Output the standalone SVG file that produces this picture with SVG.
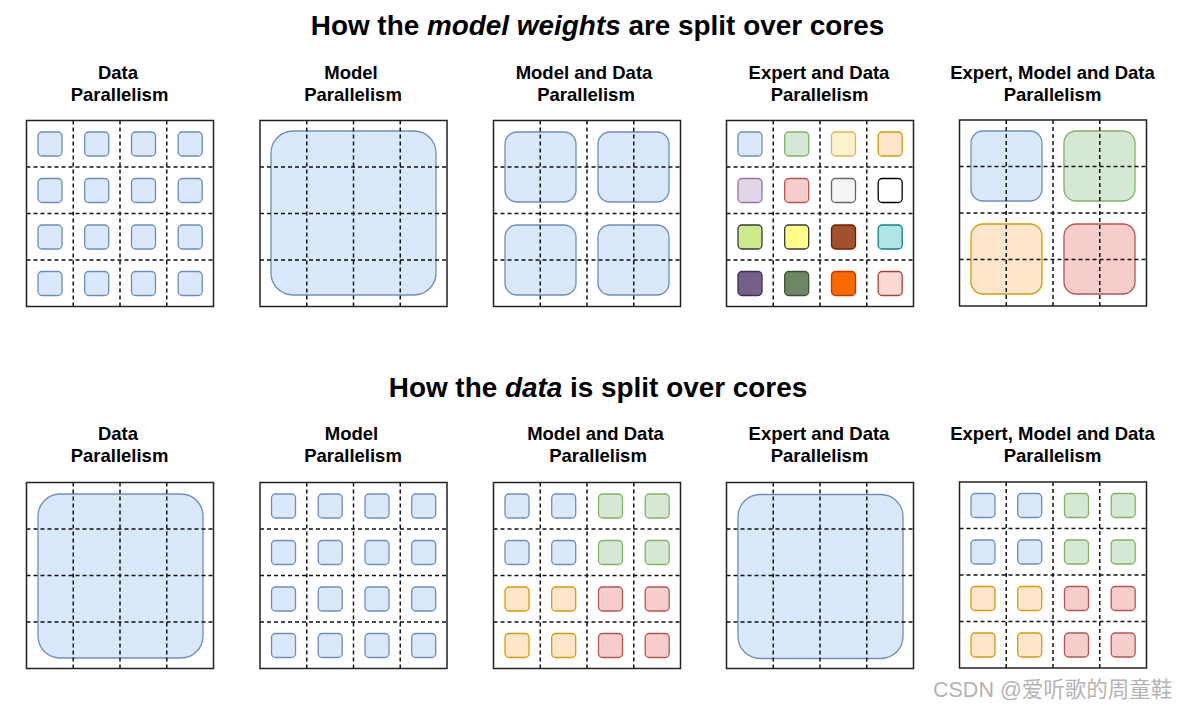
<svg xmlns="http://www.w3.org/2000/svg" xmlns:xlink="http://www.w3.org/1999/xlink" width="1180" height="710" viewBox="0 0 1180 710">
<style>
.title{font-family:"Liberation Sans",Arial,sans-serif;font-weight:bold;font-size:27.9px;fill:#000;text-anchor:middle}
.lbl{font-family:"Liberation Sans",Arial,sans-serif;font-weight:bold;font-size:18.5px;fill:#000;text-anchor:middle}
.box{fill:#fff;stroke:none}
.border{fill:none;stroke:#222;stroke-width:1.5}
.grid{fill:none;stroke:#111;stroke-width:1.5;stroke-dasharray:4 3}
.bl{fill:#dae8fc;stroke:#6c8ebf;stroke-width:1.3}
.gr{fill:#d5e8d4;stroke:#82b366;stroke-width:1.3}
.ye{fill:#fff2cc;stroke:#d6b656;stroke-width:1.3}
.or{fill:#ffe6cc;stroke:#d79b00;stroke-width:1.3}
.pu{fill:#e1d5e7;stroke:#9673a6;stroke-width:1.3}
.re{fill:#f8cecc;stroke:#b85450;stroke-width:1.3}
.gy{fill:#f5f5f5;stroke:#666666;stroke-width:1.3}
.wh{fill:#ffffff;stroke:#000000;stroke-width:1.3}
.li{fill:#cdeb8b;stroke:#36393d;stroke-width:1.3}
.yy{fill:#ffff88;stroke:#36393d;stroke-width:1.3}
.br{fill:#a0522d;stroke:#6d1f00;stroke-width:1.3}
.te{fill:#b0e3e6;stroke:#0e8088;stroke-width:1.3}
.dp{fill:#76608a;stroke:#432d57;stroke-width:1.3}
.dg{fill:#6d8764;stroke:#3a5431;stroke-width:1.3}
.do{fill:#fa6800;stroke:#c73500;stroke-width:1.3}
.lr{fill:#fad9d5;stroke:#ae4132;stroke-width:1.3}
.wm{font-family:"Liberation Sans","Noto Sans CJK SC",sans-serif;font-size:21.5px;fill:#b4b4b4}
</style>
<defs>
<rect id="sq" x="0" y="0" width="24" height="24" rx="4"/>
<rect id="md" x="0" y="0" width="71" height="70" rx="12"/>
<rect id="bg" x="0" y="0" width="165" height="164" rx="22"/>
<path id="gridlines" d="M46.75 0V187M93.5 0V187M140.25 0V187M0 46.5H187M0 93H187M0 139.5H187"/>
</defs>
<rect width="1180" height="710" fill="#fff"/>
<text class="title" x="597.5" y="35">How the <tspan font-style="italic">model weights</tspan> are split over cores</text>
<text class="title" x="598" y="397">How the <tspan font-style="italic">data</tspan> is split over cores</text>

<!-- Top row -->
<g id="w-data">
<text class="lbl" x="118" y="79">Data</text><text class="lbl" x="119.5" y="101">Parallelism</text>
<g transform="translate(26.5,120.5)">
<rect class="box" width="187" height="186"/>
<g class="bl">
<use href="#sq" x="11.5" y="11.5"/><use href="#sq" x="58.2" y="11.5"/><use href="#sq" x="105" y="11.5"/><use href="#sq" x="151.7" y="11.5"/>
<use href="#sq" x="11.5" y="58"/><use href="#sq" x="58.2" y="58"/><use href="#sq" x="105" y="58"/><use href="#sq" x="151.7" y="58"/>
<use href="#sq" x="11.5" y="104.5"/><use href="#sq" x="58.2" y="104.5"/><use href="#sq" x="105" y="104.5"/><use href="#sq" x="151.7" y="104.5"/>
<use href="#sq" x="11.5" y="151"/><use href="#sq" x="58.2" y="151"/><use href="#sq" x="105" y="151"/><use href="#sq" x="151.7" y="151"/>
</g>
<use href="#gridlines" class="grid"/>
<rect class="border" width="187" height="186"/>
</g>
</g>

<g id="w-model">
<text class="lbl" x="351" y="79">Model</text><text class="lbl" x="353" y="101">Parallelism</text>
<g transform="translate(260,120.5)">
<rect class="box" width="187" height="186"/>
<use href="#bg" class="bl" x="11" y="10.5"/>
<use href="#gridlines" class="grid"/>
<rect class="border" width="187" height="186"/>
</g>
</g>

<g id="w-model-data">
<text class="lbl" x="584" y="79">Model and Data</text><text class="lbl" x="586" y="101">Parallelism</text>
<g transform="translate(493.5,120.5)">
<rect class="box" width="187" height="186"/>
<g class="bl">
<use href="#md" x="11.5" y="11.5"/><use href="#md" x="104.5" y="11.5"/>
<use href="#md" x="11.5" y="104.5"/><use href="#md" x="104.5" y="104.5"/>
</g>
<use href="#gridlines" class="grid"/>
<rect class="border" width="187" height="186"/>
</g>
</g>

<g id="w-expert-data">
<text class="lbl" x="819" y="79">Expert and Data</text><text class="lbl" x="819.5" y="101">Parallelism</text>
<g transform="translate(726.5,120.5)">
<rect class="box" width="187" height="186"/>
<use href="#sq" class="bl" x="11.5" y="11.5"/><use href="#sq" class="gr" x="58.2" y="11.5"/><use href="#sq" class="ye" x="105" y="11.5"/><use href="#sq" class="or" x="151.7" y="11.5"/>
<use href="#sq" class="pu" x="11.5" y="58"/><use href="#sq" class="re" x="58.2" y="58"/><use href="#sq" class="gy" x="105" y="58"/><use href="#sq" class="wh" x="151.7" y="58"/>
<use href="#sq" class="li" x="11.5" y="104.5"/><use href="#sq" class="yy" x="58.2" y="104.5"/><use href="#sq" class="br" x="105" y="104.5"/><use href="#sq" class="te" x="151.7" y="104.5"/>
<use href="#sq" class="dp" x="11.5" y="151"/><use href="#sq" class="dg" x="58.2" y="151"/><use href="#sq" class="do" x="105" y="151"/><use href="#sq" class="lr" x="151.7" y="151"/>
<use href="#gridlines" class="grid"/>
<rect class="border" width="187" height="186"/>
</g>
</g>

<g id="w-expert-model-data">
<text class="lbl" x="1052.5" y="79">Expert, Model and Data</text><text class="lbl" x="1052.5" y="101">Parallelism</text>
<g transform="translate(959.5,120)">
<rect class="box" width="187" height="186"/>
<use href="#md" class="bl" x="11.5" y="11"/><use href="#md" class="gr" x="104.5" y="11"/>
<use href="#md" class="or" x="11.5" y="104"/><use href="#md" class="re" x="104.5" y="104"/>
<use href="#gridlines" class="grid"/>
<rect class="border" width="187" height="186"/>
</g>
</g>

<!-- Bottom row -->
<g id="d-data">
<text class="lbl" x="118" y="440">Data</text><text class="lbl" x="119.5" y="462">Parallelism</text>
<g transform="translate(26.5,482.5)">
<rect class="box" width="187" height="186"/>
<use href="#bg" class="bl" x="11.5" y="11.5"/>
<use href="#gridlines" class="grid"/>
<rect class="border" width="187" height="186"/>
</g>
</g>

<g id="d-model">
<text class="lbl" x="351.5" y="440">Model</text><text class="lbl" x="353" y="462">Parallelism</text>
<g transform="translate(260,482.5)">
<rect class="box" width="187" height="186"/>
<g class="bl">
<use href="#sq" x="11.5" y="11.5"/><use href="#sq" x="58.2" y="11.5"/><use href="#sq" x="105" y="11.5"/><use href="#sq" x="151.7" y="11.5"/>
<use href="#sq" x="11.5" y="58"/><use href="#sq" x="58.2" y="58"/><use href="#sq" x="105" y="58"/><use href="#sq" x="151.7" y="58"/>
<use href="#sq" x="11.5" y="104.5"/><use href="#sq" x="58.2" y="104.5"/><use href="#sq" x="105" y="104.5"/><use href="#sq" x="151.7" y="104.5"/>
<use href="#sq" x="11.5" y="151"/><use href="#sq" x="58.2" y="151"/><use href="#sq" x="105" y="151"/><use href="#sq" x="151.7" y="151"/>
</g>
<use href="#gridlines" class="grid"/>
<rect class="border" width="187" height="186"/>
</g>
</g>

<g id="d-model-data">
<text class="lbl" x="595.5" y="440">Model and Data</text><text class="lbl" x="598" y="462">Parallelism</text>
<g transform="translate(493.5,482.5)">
<rect class="box" width="187" height="186"/>
<use href="#sq" class="bl" x="11.5" y="11.5"/><use href="#sq" class="bl" x="58.2" y="11.5"/><use href="#sq" class="gr" x="105" y="11.5"/><use href="#sq" class="gr" x="151.7" y="11.5"/>
<use href="#sq" class="bl" x="11.5" y="58"/><use href="#sq" class="bl" x="58.2" y="58"/><use href="#sq" class="gr" x="105" y="58"/><use href="#sq" class="gr" x="151.7" y="58"/>
<use href="#sq" class="or" x="11.5" y="104.5"/><use href="#sq" class="or" x="58.2" y="104.5"/><use href="#sq" class="re" x="105" y="104.5"/><use href="#sq" class="re" x="151.7" y="104.5"/>
<use href="#sq" class="or" x="11.5" y="151"/><use href="#sq" class="or" x="58.2" y="151"/><use href="#sq" class="re" x="105" y="151"/><use href="#sq" class="re" x="151.7" y="151"/>
<use href="#gridlines" class="grid"/>
<rect class="border" width="187" height="186"/>
</g>
</g>

<g id="d-expert-data">
<text class="lbl" x="819" y="440">Expert and Data</text><text class="lbl" x="819.5" y="462">Parallelism</text>
<g transform="translate(726.5,482.5)">
<rect class="box" width="187" height="186"/>
<use href="#bg" class="bl" x="11.5" y="12"/>
<use href="#gridlines" class="grid"/>
<rect class="border" width="187" height="186"/>
</g>
</g>

<g id="d-expert-model-data">
<text class="lbl" x="1052.5" y="440">Expert, Model and Data</text><text class="lbl" x="1052.5" y="462">Parallelism</text>
<g transform="translate(959.5,482)">
<rect class="box" width="187" height="186"/>
<use href="#sq" class="bl" x="11.5" y="11.5"/><use href="#sq" class="bl" x="58.2" y="11.5"/><use href="#sq" class="gr" x="105" y="11.5"/><use href="#sq" class="gr" x="151.7" y="11.5"/>
<use href="#sq" class="bl" x="11.5" y="58"/><use href="#sq" class="bl" x="58.2" y="58"/><use href="#sq" class="gr" x="105" y="58"/><use href="#sq" class="gr" x="151.7" y="58"/>
<use href="#sq" class="or" x="11.5" y="104.5"/><use href="#sq" class="or" x="58.2" y="104.5"/><use href="#sq" class="re" x="105" y="104.5"/><use href="#sq" class="re" x="151.7" y="104.5"/>
<use href="#sq" class="or" x="11.5" y="151"/><use href="#sq" class="or" x="58.2" y="151"/><use href="#sq" class="re" x="105" y="151"/><use href="#sq" class="re" x="151.7" y="151"/>
<use href="#gridlines" class="grid"/>
<rect class="border" width="187" height="186"/>
</g>
</g>

<g id="connectors"/>
<text class="wm" x="933" y="697">CSDN @爱听歌的周童鞋</text>
</svg>
